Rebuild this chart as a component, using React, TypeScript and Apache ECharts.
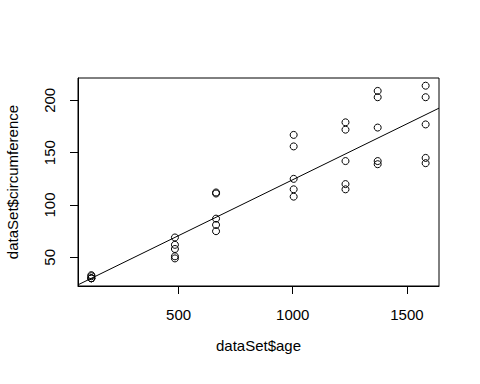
import React, { useEffect, useRef } from "react";
import * as echarts from "echarts";

const ages = [118, 484, 664, 1004, 1231, 1372, 1582];
const tree1 = [30, 58, 87, 115, 120, 142, 145];
const tree2 = [33, 69, 111, 156, 172, 203, 203];
const tree3 = [30, 51, 75, 108, 115, 139, 140];
const tree4 = [32, 62, 112, 167, 179, 209, 214];
const tree5 = [30, 49, 81, 125, 142, 174, 177];
const xTicks = [500, 1000, 1500];
const yTicks = [50, 100, 150, 200];

const X_MIN = 59.44;
const X_MAX = 1640.56;
const Y_MIN = 22.64;
const Y_MAX = 221.36;

export default function App() {
  const ref = useRef<HTMLDivElement>(null);
  useEffect(() => {
    if (!ref.current) return;
    const chart = echarts.init(ref.current, undefined, { renderer: "svg" });
    const pts: number[][] = [];
    [tree1, tree2, tree3, tree4, tree5].forEach((t) =>
      t.forEach((v, i) => pts.push([ages[i], v]))
    );
    const n = pts.length;
    const mx = pts.reduce((s, p) => s + p[0], 0) / n;
    const my = pts.reduce((s, p) => s + p[1], 0) / n;
    let sxy = 0,
      sxx = 0;
    pts.forEach((p) => {
      sxy += (p[0] - mx) * (p[1] - my);
      sxx += (p[0] - mx) * (p[0] - mx);
    });
    const b = sxy / sxx;
    const a = my - b * mx;
    const font = "Liberation Sans, Arial, sans-serif";
    chart.setOption({
      animation: false,
      backgroundColor: "#ffffff",
      grid: {
        left: 78,
        right: 41,
        top: 78,
        bottom: 98,
        show: true,
        borderColor: "#000",
        borderWidth: 1,
        backgroundColor: "transparent",
        containLabel: false,
        outerBoundsMode: "none",
      },
      xAxis: {
        type: "value",
        min: X_MIN,
        max: X_MAX,
        name: "dataSet$age",
        nameLocation: "middle",
        nameGap: 52,
        nameTextStyle: { color: "#000", fontSize: 15, fontFamily: font },
        axisLine: { show: true, lineStyle: { color: "#000", width: 1 } },
        splitLine: { show: false },
        axisTick: {
          show: true,
          length: 8,
          inside: false,
          customValues: xTicks,
          lineStyle: { color: "#000", width: 1 },
        },
        axisLabel: {
          customValues: xTicks,
          formatter: (v: number) => String(v),
          color: "#000",
          fontSize: 15,
          fontFamily: font,
          margin: 21,
        },
      },
      yAxis: {
        type: "value",
        min: Y_MIN,
        max: Y_MAX,
        name: "dataSet$circumference",
        nameLocation: "middle",
        nameGap: 58,
        nameTextStyle: { color: "#000", fontSize: 15, fontFamily: font },
        axisLine: { show: true, lineStyle: { color: "#000", width: 1 } },
        splitLine: { show: false },
        axisTick: {
          show: true,
          length: 8,
          inside: false,
          customValues: yTicks,
          lineStyle: { color: "#000", width: 1 },
        },
        axisLabel: {
          customValues: yTicks,
          formatter: (v: number) => String(v),
          rotate: 90,
          color: "#000",
          fontSize: 15,
          fontFamily: font,
          margin: 21,
        },
      },
      series: [
        {
          type: "scatter",
          data: pts,
          symbol: "circle",
          symbolSize: 7,
          itemStyle: {
            color: "rgba(0,0,0,0)",
            borderColor: "#000",
            borderWidth: 1,
            opacity: 1,
          },
        },
        {
          type: "line",
          data: [
            [X_MIN, a + b * X_MIN],
            [X_MAX, a + b * X_MAX],
          ],
          showSymbol: false,
          symbol: "none",
          clip: true,
          lineStyle: { color: "#000", width: 1 },
        },
      ],
    });
    return () => chart.dispose();
  }, []);
  return (
    <div
      ref={ref}
      style={{ position: "fixed", left: 0, top: 0, width: 480, height: 384 }}
    />
  );
}
